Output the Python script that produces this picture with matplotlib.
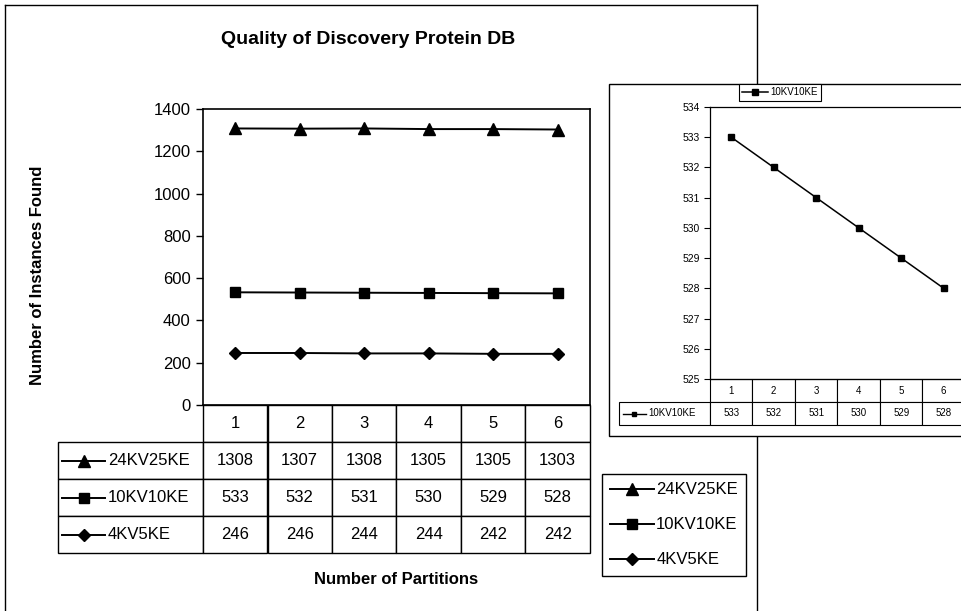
import matplotlib
matplotlib.use("Agg")
import matplotlib.pyplot as plt
from matplotlib.lines import Line2D
from matplotlib.patches import Rectangle
from matplotlib.table import Table

plt.rcParams['font.family'] = ['Liberation Sans', 'DejaVu Sans']

# ---------------- data ----------------
partitions = [1, 2, 3, 4, 5, 6]
series_names = ["24KV25KE", "10KV10KE", "4KV5KE"]
s_24kv25ke = [1308, 1307, 1308, 1305, 1305, 1303]
s_10kv10ke = [533, 532, 531, 530, 529, 528]
s_4kv5ke = [246, 246, 244, 244, 242, 242]
main_yticks = [0, 200, 400, 600, 800, 1000, 1200, 1400]
inset_yticks = [525, 526, 527, 528, 529, 530, 531, 532, 533, 534]
title = "Quality of Discovery Protein DB"
xlabel = "Number of Partitions"
ylabel = "Number of Instances Found"

W, H = 962, 611
fig = plt.figure(figsize=(W / 100, H / 100), dpi=100)
fig.patch.set_facecolor('white')


def fx(px):
    return px / W


def fy(py):
    return 1 - py / H


def axes_rect(l, t, r, b):
    return [fx(l), fy(b), (r - l) / W, (b - t) / H]


def build_table(axis, names, rows, height, label_w, fontsize, lw, pad):
    # bbox covers data + header cells (col >= 0); row labels sit to the left
    tbl = Table(axis, bbox=[0, -height, 1, height])
    ncol = len(partitions)
    for j, p in enumerate(partitions):
        tbl.add_cell(0, j, 1 / ncol, 0.1, text=str(p), loc='center')
    for i, (nm, vals) in enumerate(zip(names, rows)):
        c = tbl.add_cell(i + 1, -1, label_w, 0.1, text=nm, loc='left')
        c.PAD = pad
        for j, v in enumerate(vals):
            tbl.add_cell(i + 1, j, 1 / ncol, 0.1, text=str(v), loc='center')
    tbl.auto_set_font_size(False)
    tbl.set_fontsize(fontsize)
    for cell in tbl.get_celld().values():
        cell.set_linewidth(lw)
    axis.add_table(tbl)
    return tbl


# ---------------- outer frame of main chart ----------------
for xs, ys in [((5, 5), (5, 612)), ((5, 757), (5, 5)), ((757, 757), (5, 612))]:
    fig.add_artist(Line2D([fx(xs[0]), fx(xs[1])], [fy(ys[0]), fy(ys[1])],
                          color='black', lw=1.0, transform=fig.transFigure, zorder=0))

# ---------------- main axes ----------------
L, T, R, B = 203, 109, 590, 405
ax = fig.add_axes(axes_rect(L, T, R, B))
markers = ['^', 's', 'D']
msizes = [8, 7.5, 6]
series = [s_24kv25ke, s_10kv10ke, s_4kv5ke]
handles = []
for name, vals, m, ms in zip(series_names, series, markers, msizes):
    h, = ax.plot(partitions, vals, color='black', lw=1.4, marker=m, markersize=ms,
                 label=name)
    handles.append(h)
ax.set_xlim(0.5, 6.5)
ax.set_ylim(0, 1400)
ax.set_yticks(main_yticks)
ax.set_xticks([])
ax.tick_params(axis='y', direction='out', length=5, width=1, labelsize=12, pad=4)
for s in ax.spines.values():
    s.set_linewidth(1.2)

# table below main axes
tb_left_px = 58
tb_bottom_px = 553
x0 = (tb_left_px - L) / (R - L)
y0 = (B - tb_bottom_px) / (B - T)
build_table(ax, series_names, series, -y0, -x0, 12, 1.0,
            (108 - tb_left_px) / (L - tb_left_px))
# legend keys in row labels
row_h = -y0 / 4
for i, (m, ms) in enumerate(zip(markers, msizes)):
    yc = -row_h * (i + 1) - row_h / 2
    xa = (62 - L) / (R - L)
    xb = (105 - L) / (R - L)
    ax.add_line(Line2D([xa, xb], [yc, yc], color='black', lw=1.4,
                       transform=ax.transAxes, clip_on=False))
    ax.add_line(Line2D([(xa + xb) / 2], [yc], color='black', marker=m, markersize=ms,
                       transform=ax.transAxes, clip_on=False))

fig.text(fx(396), fy(580), xlabel, ha='center', va='center', fontsize=12, fontweight='bold')
fig.text(fx(38), fy(275), ylabel, ha='center', va='center', rotation=90,
         fontsize=12, fontweight='bold')
fig.text(fx(368), fy(40), title, ha='center', va='center', fontsize=14, fontweight='bold')

# main legend
leg = fig.legend(handles, series_names, loc='upper left',
                 bbox_to_anchor=(fx(602), fy(474)), bbox_transform=fig.transFigure,
                 fontsize=12, handlelength=2.6, handletextpad=0.15, labelspacing=1.2,
                 borderpad=0.5, borderaxespad=0, fancybox=False, framealpha=1,
                 edgecolor='black')
leg.get_frame().set_linewidth(1.0)

# ---------------- inset chart ----------------
fig.add_artist(Rectangle((fx(609), fy(436)), fx(980) - fx(609), fy(84) - fy(436),
                         transform=fig.transFigure, facecolor='white',
                         edgecolor='black', lw=1.0, zorder=2))

iL, iT, iR, iB = 710, 107, 965, 379
iax = fig.add_axes(axes_rect(iL, iT, iR, iB), zorder=3)
ih, = iax.plot(partitions, s_10kv10ke, color='black', lw=1.1, marker='s', markersize=4.5,
               label=series_names[1])
iax.set_xlim(0.5, 6.5)
iax.set_ylim(525, 534)
iax.set_yticks(inset_yticks)
iax.set_xticks([])
iax.tick_params(axis='y', direction='out', length=4, width=0.8, labelsize=7.5, pad=3)
for s in iax.spines.values():
    s.set_linewidth(0.9)

ix0 = (619 - iL) / (iR - iL)
iy0 = (iB - 425) / (iB - iT)
build_table(iax, [series_names[1]], [s_10kv10ke], -iy0, -ix0, 7, 0.8,
            (648 - 619) / (iL - 619))
yc = iy0 * 0.75
xa = (623 - iL) / (iR - iL)
xb = (646 - iL) / (iR - iL)
iax.add_line(Line2D([xa, xb], [yc, yc], color='black', lw=1.0,
                    transform=iax.transAxes, clip_on=False))
iax.add_line(Line2D([(xa + xb) / 2], [yc], color='black', marker='s', markersize=3.5,
                    transform=iax.transAxes, clip_on=False))

ileg = fig.legend([ih], [series_names[1]], loc='upper left',
                  bbox_to_anchor=(fx(739), fy(84)), bbox_transform=fig.transFigure,
                  fontsize=7, handlelength=2.6, handletextpad=0.3, borderpad=0.35,
                  borderaxespad=0, fancybox=False, framealpha=1, edgecolor='black')
ileg.get_frame().set_linewidth(0.8)
ileg.set_zorder(5)

fig.savefig("out.png", dpi=100, facecolor='white')
